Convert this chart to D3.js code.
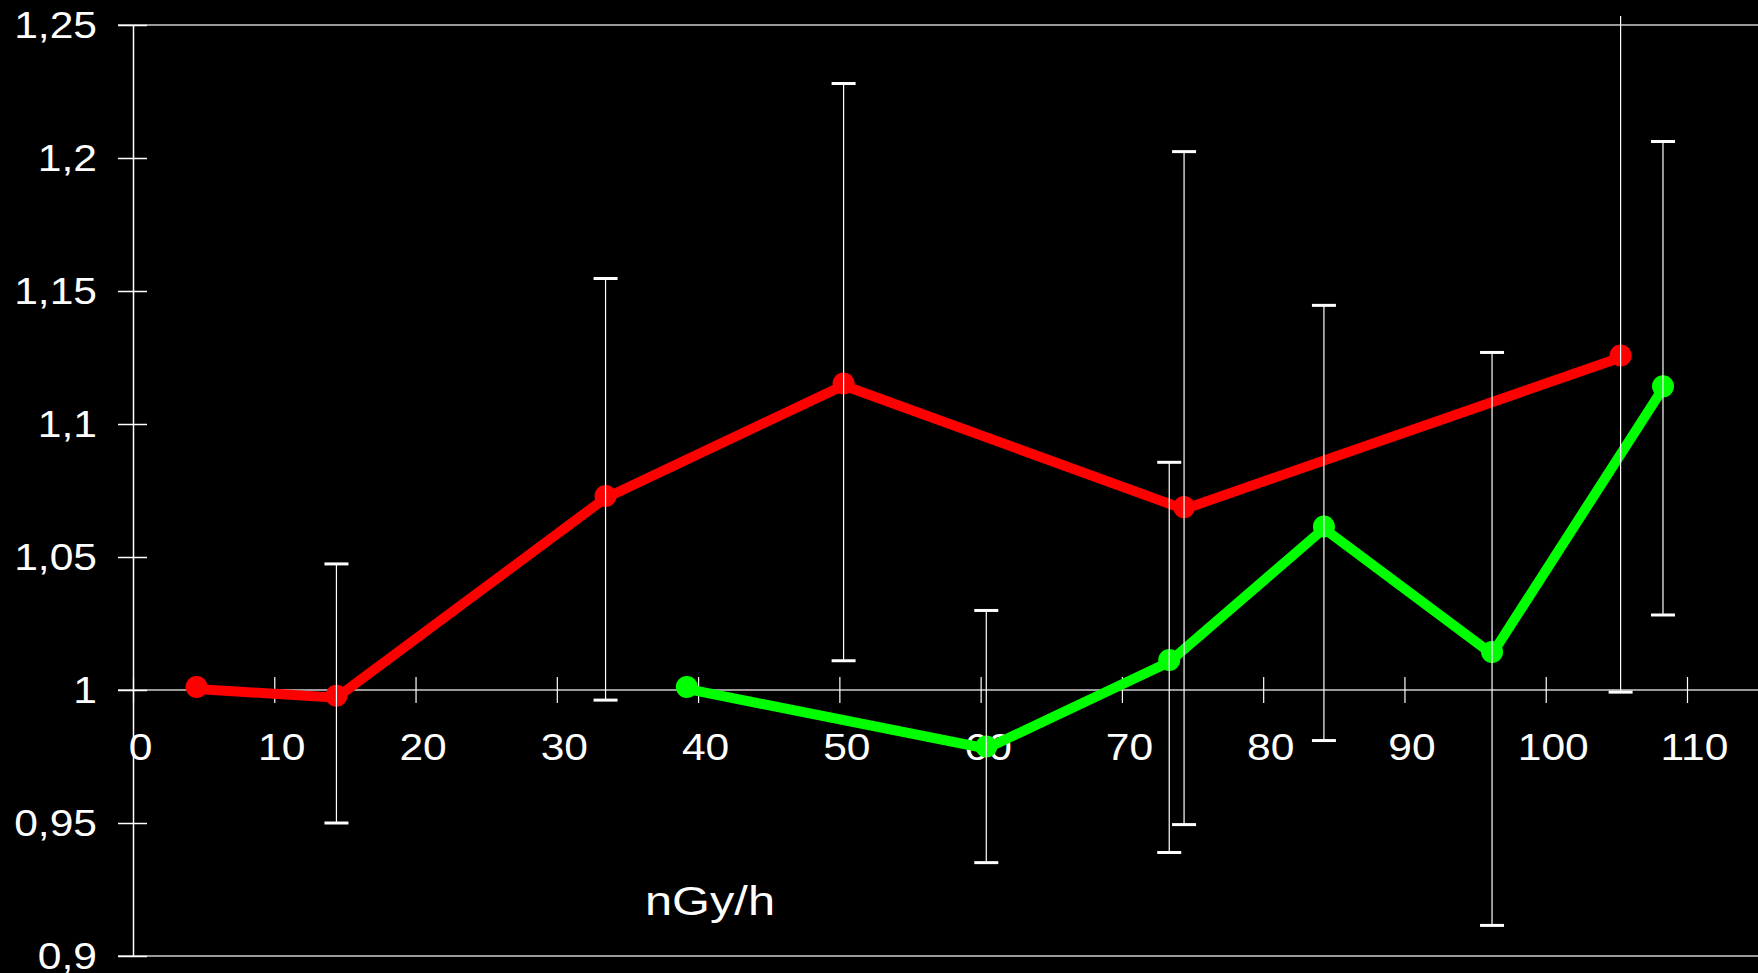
<!DOCTYPE html>
<html>
<head>
<meta charset="utf-8">
<script src="https://cdn.jsdelivr.net/npm/d3@7"></script>
<style>
  html, body { margin: 0; padding: 0; background: #000; overflow: hidden; }
  svg { display: block; }
</style>
</head>
<body>
<svg id="chart" width="1758" height="973"></svg>
<script>
// Axis ticks and labels
const xTickValues = [0, 10, 20, 30, 40, 50, 60, 70, 80, 90, 100, 110];
const yTickValues = [0.9, 0.95, 1, 1.05, 1.1, 1.15, 1.2, 1.25];
const yTickLabels = ["0,9", "0,95", "1", "1,05", "1,1", "1,15", "1,2", "1,25"];
const xTitle = "nGy/h";

// Red series: dose rate, relative value, error bar high / low (null = no bar)
const redDose  = [4.5, 14.4, 33.45, 50.3, 74.4, 105.3];
const redValue = [1.0004, 0.9971, 1.0722, 1.1145, 1.068, 1.125];
const redHigh  = [null, 1.0474, 1.1547, 1.228, 1.2024, 1.2534];
const redLow   = [null, 0.9500, 0.9962, 1.011, 0.9494, 0.9992];

// Green series
const greenDose  = [39.2, 60.4, 73.35, 84.3, 96.2, 108.3];
const greenValue = [1.0004, 0.978, 1.0105, 1.0607, 1.0135, 1.1134];
const greenHigh  = [null, 1.0299, 1.0856, 1.1446, 1.1269, 1.2062];
const greenLow   = [null, 0.9351, 0.9389, 0.981, 0.9115, 1.0282];

const W = 1758, H = 973;
const svg = d3.select("#chart");
svg.append("rect").attr("width", W).attr("height", H).attr("fill", "#000");

const x = d3.scaleLinear().domain([0, 110]).range([133, 1687]);
const y = d3.scaleLinear().domain([0.9, 1.25]).range([956, 25]);

const FONT = "'Liberation Sans', Arial, Helvetica, sans-serif";
const STRETCH = "scale(1.15,1)";

// Grey reference lines: top frame, baseline at 1, bottom frame
svg.append("g").selectAll("line")
  .data([y.domain()[1], 1, y.domain()[0]])
  .join("line")
  .attr("x1", 118).attr("x2", W)
  .attr("y1", d => y(d)).attr("y2", d => y(d))
  .attr("stroke", "#9a9a9a").attr("stroke-width", 2);

// Y axis
const yAxis = svg.append("g")
  .attr("transform", `translate(${x(0)},0)`)
  .call(d3.axisLeft(y).tickValues(yTickValues)
    .tickFormat((d, i) => yTickLabels[i]).tickSizeOuter(0));
yAxis.select(".domain").attr("stroke", "#fff").attr("stroke-width", 1.5);
yAxis.selectAll(".tick line")
  .attr("x1", -15).attr("x2", 14)
  .attr("stroke", "#fff").attr("stroke-width", 1.5);
yAxis.selectAll(".tick text")
  .attr("x", null).attr("dy", "0.35em")
  .attr("transform", `translate(-36,0) ${STRETCH}`)
  .attr("text-anchor", "end")
  .attr("fill", "#fff")
  .style("font-family", FONT).style("font-size", "37px");

// X axis crossing at 1
const xAxis = svg.append("g")
  .attr("transform", `translate(0,${y(1)})`)
  .call(d3.axisBottom(x).tickValues(xTickValues).tickFormat(d3.format("d")).tickSizeOuter(0));
xAxis.select(".domain").remove();
xAxis.selectAll(".tick line")
  .attr("y1", -13).attr("y2", 13)
  .attr("stroke", "#fff").attr("stroke-width", 1.2);
xAxis.selectAll(".tick text")
  .attr("y", null).attr("dy", null)
  .attr("transform", `translate(7,70) ${STRETCH}`)
  .attr("fill", "#fff")
  .style("font-family", FONT).style("font-size", "37px");

// Axis title
svg.append("text")
  .attr("x", 645).attr("y", 915)
  .attr("fill", "#fff")
  .attr("textLength", 130).attr("lengthAdjust", "spacingAndGlyphs")
  .style("font-family", FONT).style("font-size", "40px")
  .text(xTitle);

// Series
const series = [
  { color: "#ff0000", dose: redDose, value: redValue, hi: redHigh, lo: redLow },
  { color: "#00ff00", dose: greenDose, value: greenValue, hi: greenHigh, lo: greenLow }
];

const line = d3.line().x(d => x(d.dose)).y(d => y(d.value));

series.forEach(s => {
  const pts = s.dose.map((d, i) => ({ dose: d, value: s.value[i], hi: s.hi[i], lo: s.lo[i] }));
  const g = svg.append("g");
  g.append("path")
    .datum(pts)
    .attr("d", line)
    .attr("fill", "none")
    .attr("stroke", s.color)
    .attr("stroke-width", 10)
    .attr("stroke-linejoin", "miter");
  g.selectAll("circle")
    .data(pts)
    .join("circle")
    .attr("cx", d => x(d.dose))
    .attr("cy", d => y(d.value) - 2)
    .attr("r", 11)
    .attr("fill", s.color);
  s.pts = pts;
});

// Error bars drawn on top of the series
series.forEach(s => {
  const bars = s.pts.filter(d => d.hi != null);
  const g = svg.append("g");
  g.selectAll("line.stem")
    .data(bars)
    .join("line")
    .attr("class", "stem")
    .attr("x1", d => x(d.dose)).attr("x2", d => x(d.dose))
    .attr("y1", d => y(d.hi)).attr("y2", d => y(d.lo))
    .attr("stroke", "#fff").attr("stroke-width", 1.2);
  const caps = [];
  bars.forEach(d => {
    if (d.hi <= y.domain()[1]) caps.push({ dose: d.dose, v: d.hi });
    caps.push({ dose: d.dose, v: d.lo });
  });
  g.selectAll("line.cap")
    .data(caps)
    .join("line")
    .attr("class", "cap")
    .attr("x1", d => x(d.dose) - 12).attr("x2", d => x(d.dose) + 12)
    .attr("y1", d => y(d.v)).attr("y2", d => y(d.v))
    .attr("stroke", "#fff").attr("stroke-width", 3);
});
</script>
</body>
</html>
